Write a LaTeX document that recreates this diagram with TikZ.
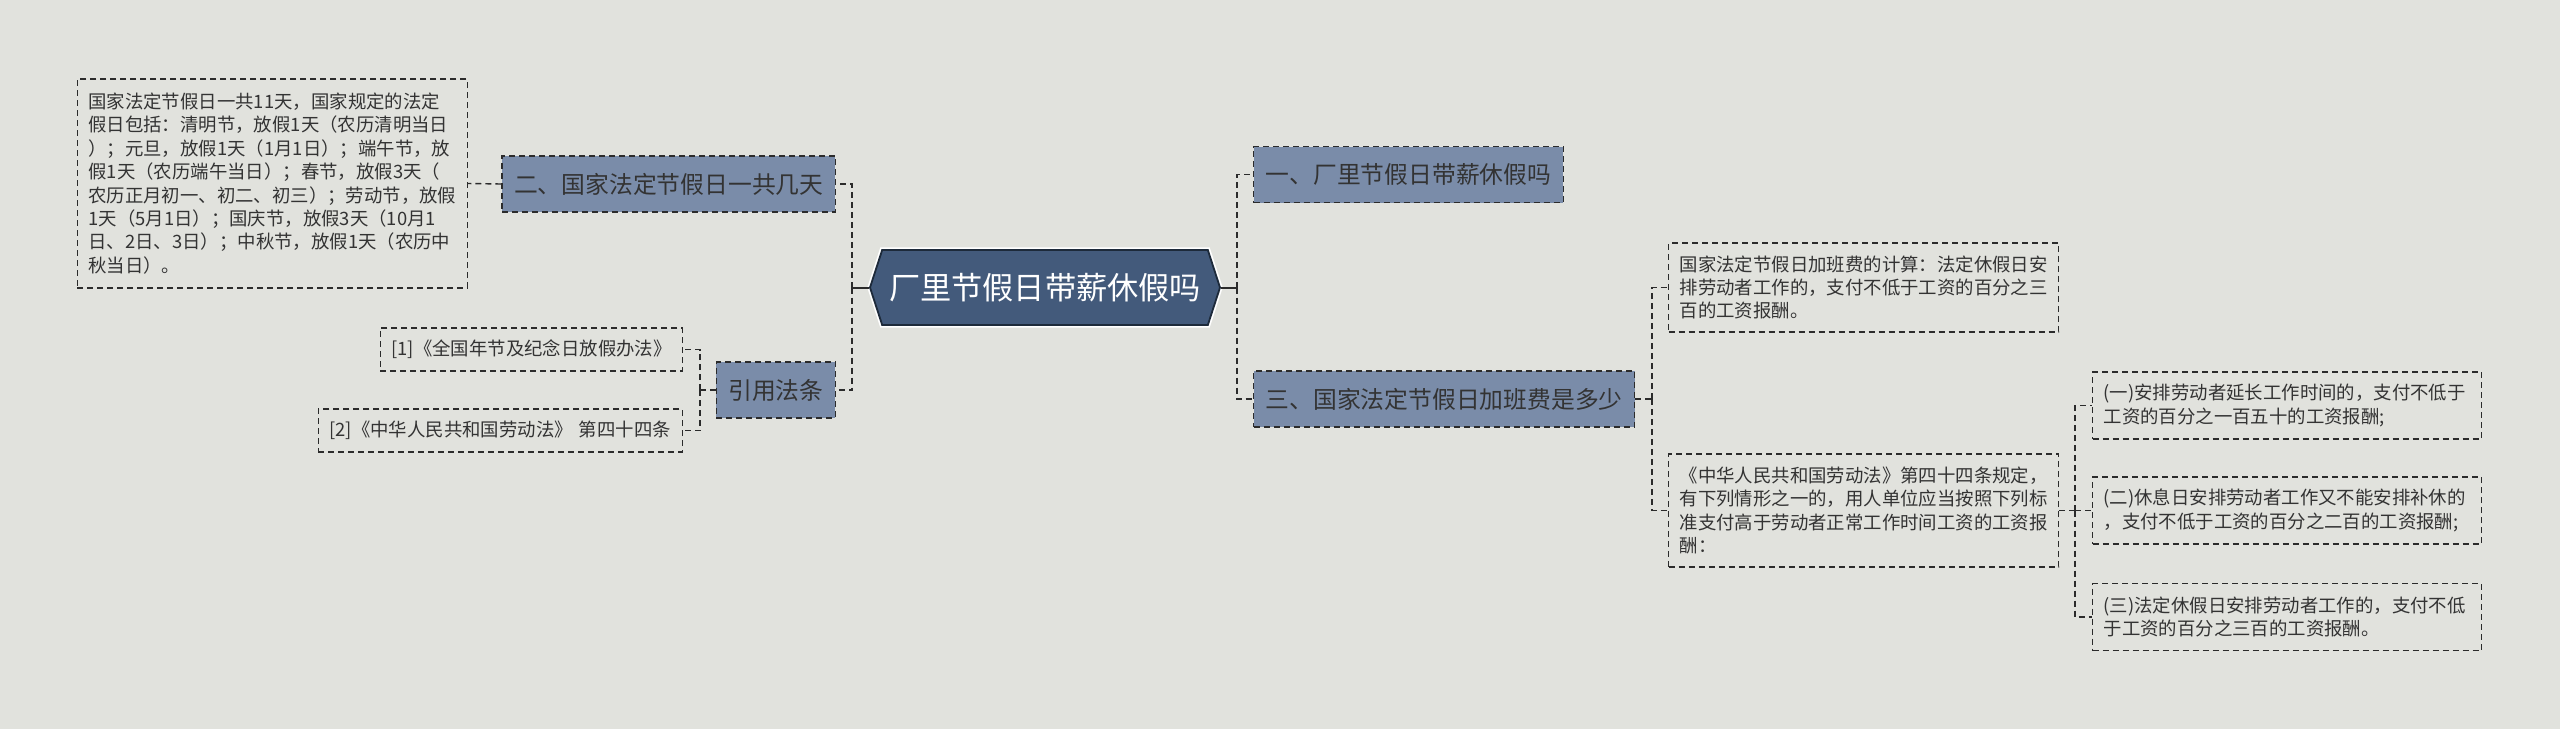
\documentclass[tikz,border=0pt]{standalone}
\usepackage{fontspec}
\setmainfont{Noto Sans CJK SC}
\usepackage{tikz}
\usetikzlibrary{shapes.symbols}
\usepackage{xcolor}

\definecolor{canvas}{HTML}{E1E2DD}
\definecolor{rootblue}{HTML}{435A7B}
\definecolor{rootedge}{HTML}{1D2A3A}
\definecolor{topicblue}{HTML}{7A8CA9}
\definecolor{inkgray}{HTML}{333333}
\definecolor{linegray}{HTML}{2B2B2B}

\tikzset{
  link/.style={draw=linegray, line width=0.7pt, dash pattern=on 3pt off 2pt},
  stem/.style={draw=linegray, line width=1pt},
  rootnode/.style={signal, signal to=west and east, signal pointer angle=144,
    fill=rootblue, draw=rootedge, line width=0.9pt,
    preaction={draw=white, line width=2.6pt},
    text=white, font=\fontsize{15.6}{18}\selectfont,
    minimum width=175pt, minimum height=37.5pt, inner sep=0pt},
  topic/.style={fill=topicblue, draw=linegray, line width=0.6pt, dash pattern=on 3pt off 2pt,
    text=inkgray, font=\fontsize{11.9}{14}\selectfont,
    inner xsep=6pt, inner ysep=0pt, minimum height=28pt},
  leaf/.style={draw=linegray, line width=0.6pt, dash pattern=on 3pt off 2pt,
    text=inkgray, font=\fontsize{9.2}{11.7}\selectfont, align=left,
    inner xsep=5.5pt, inner ysep=0pt},
}

\begin{document}
\begin{tikzpicture}[x=0.5pt,y=-0.5pt]
\useasboundingbox (0,0) rectangle (2560,729);
\fill[canvas] (0,0) rectangle (2560,729);

\node[rootnode] (root) at (1045,287.5) {厂里节假日带薪休假吗};

\node[topic, anchor=east] (t2) at (836,184) {二、国家法定节假日一共几天};
\node[topic, anchor=east] (tcite) at (836,390) {引用法条};
\node[topic, anchor=west] (t1) at (1253,174.5) {一、厂里节假日带薪休假吗};
\node[topic, anchor=west] (t3) at (1253,399) {三、国家法定节假日加班费是多少};

\node[leaf, anchor=east, text width=184pt, minimum height=104.5pt] (days) at (468,183.5)
  {国家法定节假日一共11天，国家规定的法定\\
   假日包括：清明节，放假1天（农历清明当日\\
   ）；元旦，放假1天（1月1日）；端午节，放\\
   假1天（农历端午当日）；春节，放假3天（\\
   农历正月初一、初二、初三）；劳动节，放假\\
   1天（5月1日）；国庆节，放假3天（10月1\\
   日、2日、3日）；中秋节，放假1天（农历中\\
   秋当日）。};
\node[leaf, anchor=east, text width=140pt, minimum height=21.5pt] (cite1) at (683,349.5)
  {[1]《全国年节及纪念日放假办法》};
\node[leaf, anchor=east, text width=171pt, minimum height=21.5pt] (cite2) at (683,430.5)
  {[2]《中华人民共和国劳动法》 第四十四条};

\node[leaf, anchor=west, text width=184pt, minimum height=44.5pt] (calc) at (1668,287.5)
  {国家法定节假日加班费的计算：法定休假日安\\
   排劳动者工作的，支付不低于工资的百分之三\\
   百的工资报酬。};
\node[leaf, anchor=west, text width=184pt, minimum height=56.5pt] (law) at (1668,510.5)
  {《中华人民共和国劳动法》第四十四条规定，\\
   有下列情形之一的，用人单位应当按照下列标\\
   准支付高于劳动者正常工作时间工资的工资报\\
   酬：};

\node[leaf, anchor=west, text width=183.5pt, minimum height=33.5pt] (r1) at (2092,405.5)
  {(一)安排劳动者延长工作时间的，支付不低于\\
   工资的百分之一百五十的工资报酬;};
\node[leaf, anchor=west, text width=183.5pt, minimum height=33.5pt] (r2) at (2092,510.5)
  {(二)休息日安排劳动者工作又不能安排补休的\\
   ，支付不低于工资的百分之二百的工资报酬;};
\node[leaf, anchor=west, text width=183.5pt, minimum height=33.5pt] (r3) at (2092,617)
  {(三)法定休假日安排劳动者工作的，支付不低\\
   于工资的百分之三百的工资报酬。};

\coordinate (lj) at (852,287.5);
\coordinate (rj) at (1237,287.5);
\coordinate (cj) at (700,390);
\coordinate (tj) at (1652,399);
\coordinate (lawj) at (2075,510.5);

\draw[stem] (root.west) -- (lj);
\draw[link] (lj) |- (t2.east);
\draw[link] (lj) |- (tcite.east);
\draw[stem] (root.east) -- (rj);
\draw[link] (rj) |- (t1.west);
\draw[link] (rj) |- (t3.west);

\draw[link] (t2.west) -- (days.east);
\draw[link] (tcite.west) -- (cj);
\foreach \k in {cite1,cite2}
  \draw[link] (cj) |- (\k.east);

\draw[link] (t3.east) -- (tj);
\foreach \k in {calc,law}
  \draw[link] (tj) |- (\k.west);
\draw[link] (law.east) -- (lawj);
\foreach \k in {r1,r2,r3}
  \draw[link] (lawj) |- (\k.west);
\end{tikzpicture}
\end{document}
